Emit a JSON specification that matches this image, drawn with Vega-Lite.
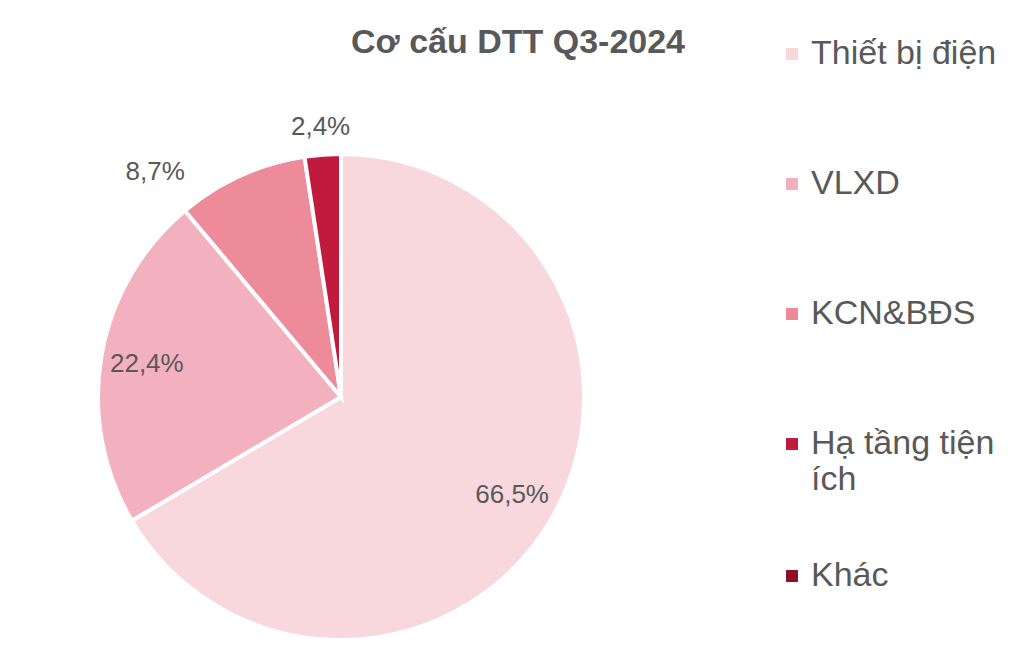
{
  "$schema": "https://vega.github.io/schema/vega-lite/v6.json",
  "width": 486,
  "height": 486,
  "autosize": {"type": "none"},
  "padding": {"left": 98, "top": 154, "right": 443, "bottom": 18},
  "background": "#ffffff",
  "title": {
    "text": "Cơ cấu DTT Q3-2024",
    "font": "Liberation Sans",
    "fontSize": 34,
    "fontWeight": "bold",
    "color": "#595959",
    "anchor": "middle",
    "dx": 177,
    "baseline": "alphabetic",
    "offset": -50
  },
  "data": {
    "values": [
      {"segment": "Thiết bị điện", "share": 66.5, "idx": 1, "label": "66,5%"},
      {"segment": "VLXD", "share": 22.4, "idx": 2, "label": "22,4%"},
      {"segment": "KCN&BĐS", "share": 8.7, "idx": 3, "label": "8,7%"},
      {"segment": "Hạ tầng tiện ích", "share": 2.4, "idx": 4, "label": "2,4%"},
      {"segment": "Khác", "share": 0, "idx": 5, "label": ""}
    ]
  },
  "encoding": {
    "theta": {"field": "share", "type": "quantitative", "stack": true},
    "order": {"field": "idx", "type": "quantitative", "sort": "ascending"}
  },
  "layer": [
    {
      "mark": {"type": "arc", "outerRadius": 243, "stroke": "#ffffff", "strokeWidth": 4},
      "encoding": {
        "color": {
          "field": "segment",
          "type": "nominal",
          "sort": ["Thiết bị điện", "VLXD", "KCN&BĐS", "Hạ tầng tiện ích", "Khác"],
          "scale": {
            "domain": ["Thiết bị điện", "VLXD", "KCN&BĐS", "Hạ tầng tiện ích", "Khác"],
            "range": ["#F8D7DD", "#F3B1BF", "#ED8B9B", "#C01A3C", "#8A1029"]
          },
          "legend": {
            "title": null,
            "orient": "none",
            "legendX": 677,
            "legendY": -117,
            "direction": "vertical",
            "values": ["Thiết bị điện", "VLXD", "KCN&BĐS", "Hạ tầng tiện ích"],
            "symbolType": "square",
            "symbolSize": 144,
            "symbolStrokeWidth": 0,
            "symbolOpacity": 1,
            "labelFont": "Liberation Sans",
            "labelFontSize": 34,
            "labelColor": "#595959",
            "labelOffset": 2,
            "labelLimit": 400,
            "rowPadding": 96,
            "padding": 0,
            "labelExpr": "datum.label == 'Hạ tầng tiện ích' ? ['Hạ tầng tiện', 'ích'] : datum.label"
          }
        }
      }
    },
    {
      "transform": [{"filter": "datum.idx == 5"}],
      "mark": {"type": "arc", "outerRadius": 243, "strokeWidth": 0},
      "encoding": {
        "fill": {
          "field": "segment",
          "type": "nominal",
          "scale": {"domain": ["Khác"], "range": ["#8A1029"]},
          "legend": {
            "title": null,
            "orient": "none",
            "legendX": 677,
            "legendY": 405,
            "direction": "vertical",
            "symbolType": "square",
            "symbolSize": 144,
            "symbolStrokeWidth": 0,
            "symbolOpacity": 1,
            "labelFont": "Liberation Sans",
            "labelFontSize": 34,
            "labelColor": "#595959",
            "labelOffset": 2,
            "labelLimit": 400,
            "padding": 0
          }
        }
      }
    },
    {
      "mark": {"type": "text", "radius": 197, "font": "Liberation Sans", "fontSize": 26, "color": "#595959"},
      "encoding": {"text": {"condition": {"test": "datum.idx <= 2", "field": "label"}, "value": ""}}
    },
    {
      "mark": {"type": "text", "radius": 271, "font": "Liberation Sans", "fontSize": 26, "color": "#595959"},
      "encoding": {"text": {"condition": {"test": "datum.idx == 4", "field": "label"}, "value": ""}}
    },
    {
      "mark": {"type": "text", "radius": 250, "dx": -83, "dy": 3, "font": "Liberation Sans", "fontSize": 26, "color": "#595959"},
      "encoding": {"text": {"condition": {"test": "datum.idx == 3", "field": "label"}, "value": ""}}
    }
  ]
}
